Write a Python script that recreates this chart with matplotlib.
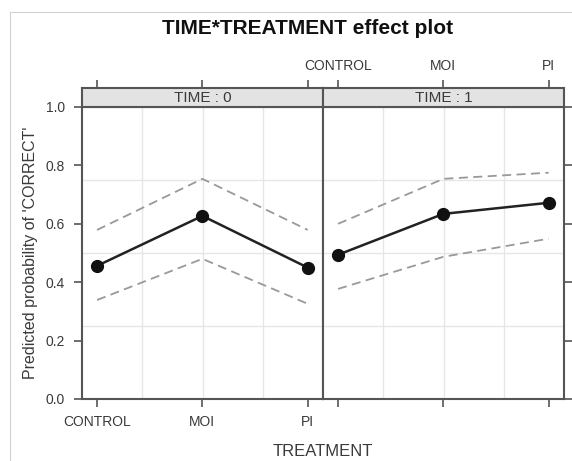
import matplotlib
matplotlib.use('Agg')
import matplotlib.pyplot as plt
from matplotlib.patches import Rectangle

plt.rcParams['font.family'] = ['Liberation Sans', 'DejaVu Sans']

# 数据
treatments = ['CONTROL', 'MOI', 'PI']
time_labels = ['TIME : 0', 'TIME : 1']
fit_t0 = [0.456, 0.627, 0.450]
lower_t0 = [0.339, 0.480, 0.326]
upper_t0 = [0.579, 0.754, 0.579]
fit_t1 = [0.494, 0.634, 0.672]
lower_t1 = [0.377, 0.487, 0.549]
upper_t1 = [0.600, 0.754, 0.775]
y_ticks = [0.0, 0.2, 0.4, 0.6, 0.8, 1.0]

W, H = 572, 461
fig = plt.figure(figsize=(W / 100, H / 100), dpi=100)

def fx(px):
    return px / W

def fy(py):
    return 1 - py / H

# 外框
fig.patches.append(Rectangle((fx(10), fy(470)), fx(600), fy(12) - fy(470),
                             transform=fig.transFigure, fill=False,
                             edgecolor='#d0d0d0', linewidth=0.8))

spine_c = '#555555'
text_c = '#3a3a3a'
xs = [1, 2, 3]
xlim = (0.857, 3.145)

panels = [(82, fit_t0, lower_t0, upper_t0), (323, fit_t1, lower_t1, upper_t1)]
pw = 241
top, bottom = 107, 399
strip_top = 88

for i, (x0, fit, lo, up) in enumerate(panels):
    ax = fig.add_axes([fx(x0), fy(bottom), fx(pw), fy(top) - fy(bottom)])
    ax.set_xlim(xlim)
    ax.set_ylim(0, 1)
    # 网格
    for f in [0.25, 0.5, 0.75]:
        ax.axvline(xlim[0] + f * (xlim[1] - xlim[0]), color='#e6e6e6', lw=1, zorder=0)
        ax.axhline(f, color='#e6e6e6', lw=1, zorder=0)
    ax.plot(xs, up, color='#999999', lw=1.3, ls=(0, (5, 3)))
    ax.plot(xs, lo, color='#999999', lw=1.3, ls=(0, (5, 3)))
    ax.plot(xs, fit, color='#222222', lw=1.8, marker='o', markersize=8.5,
            markerfacecolor='#111111', markeredgecolor='#111111')
    for s in ax.spines.values():
        s.set_color(spine_c)
        s.set_linewidth(1.5)
    ax.set_xticks(xs)
    ax.tick_params(colors=spine_c, labelcolor=text_c, labelsize=10,
                   length=5.5, width=1.2)
    ax.tick_params(axis='x', pad=6)
    ax.tick_params(axis='y', pad=7)
    if i == 0:
        ax.set_xticklabels(treatments)
        ax.set_yticks(y_ticks)
        ax.set_yticklabels(['%.1f' % v for v in y_ticks])
        ax.set_ylabel("Predicted probability of 'CORRECT'", fontsize=11.5,
                      color=text_c, labelpad=5)
    else:
        ax.set_xticklabels([])
        ax.set_yticks(y_ticks)
        ax.yaxis.tick_right()
        ax.set_yticklabels([])

    # 条带
    sax = fig.add_axes([fx(x0), fy(top), fx(pw), fy(strip_top) - fy(top)])
    sax.set_facecolor('#e3e3e3')
    sax.set_xlim(xlim)
    sax.set_yticks([])
    for s in sax.spines.values():
        s.set_color(spine_c)
        s.set_linewidth(1.5)
    sax.text(0.5, 0.45, time_labels[i], transform=sax.transAxes, ha='center',
             va='center', fontsize=11, color=text_c)
    sax.xaxis.tick_top()
    sax.set_xticks(xs)
    sax.tick_params(colors=spine_c, labelcolor=text_c, labelsize=10,
                    length=5.5, width=1.2, pad=5)
    if i == 1:
        sax.set_xticklabels(treatments)
    else:
        sax.set_xticklabels([])

fig.text(fx(323), fy(451), 'TREATMENT', ha='center', va='center',
         fontsize=12, color=text_c)
fig.text(fx(308), fy(29), 'TIME*TREATMENT effect plot', ha='center',
         va='center', fontsize=15, fontweight='bold', color='#111111')

fig.savefig('out.png', dpi=100)
